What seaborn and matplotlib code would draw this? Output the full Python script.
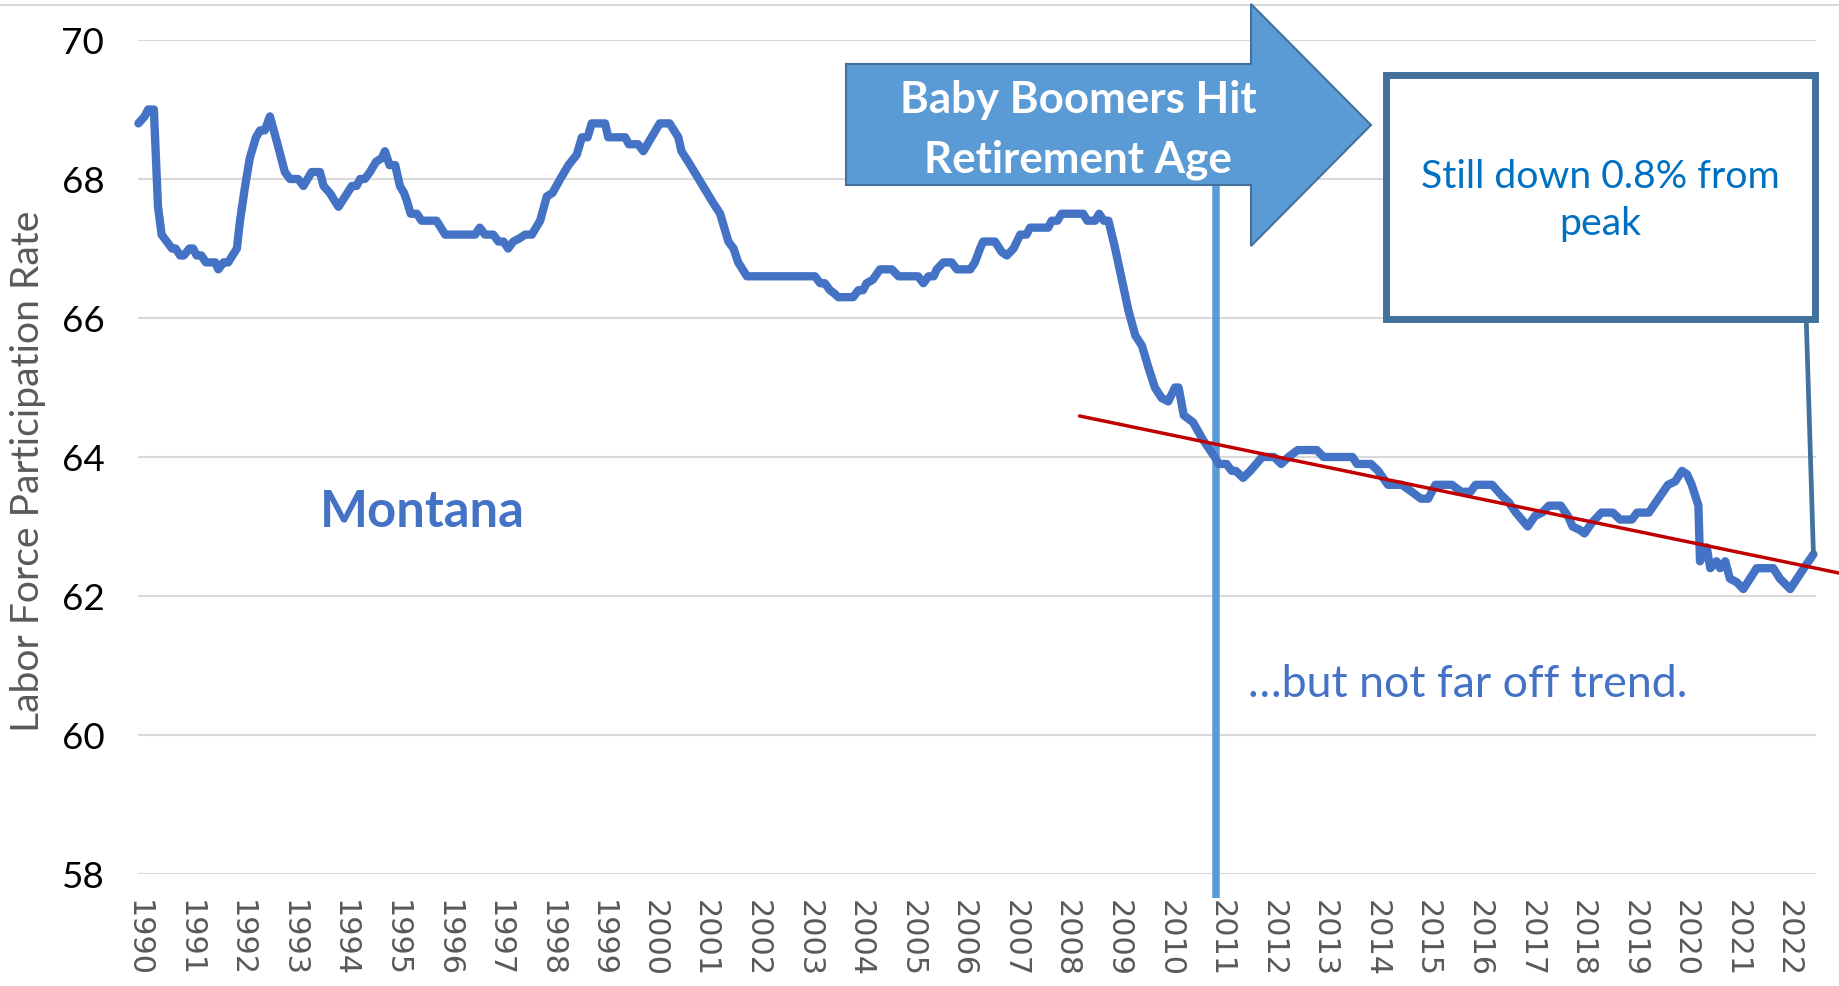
import matplotlib
matplotlib.use("Agg")
import matplotlib.pyplot as plt
import seaborn as sns
import pandas as pd
from matplotlib.patches import Polygon, Rectangle
from matplotlib.lines import Line2D
from matplotlib.textpath import TextPath
from matplotlib.font_manager import FontProperties

# ---------------- data ----------------
years = [
    1990.00, 1990.12, 1990.19, 1990.30, 1990.38, 1990.45, 1990.55, 1990.65, 1990.72, 1990.81,
    1990.88, 1990.99, 1991.06, 1991.13, 1991.22, 1991.31, 1991.49, 1991.55, 1991.65, 1991.74,
    1991.91, 1991.97, 1992.07, 1992.16, 1992.28, 1992.36, 1992.45, 1992.55, 1992.68, 1992.84,
    1992.94, 1993.10, 1993.20, 1993.36, 1993.52, 1993.59, 1993.71, 1993.88, 1994.01, 1994.14,
    1994.23, 1994.30, 1994.39, 1994.49, 1994.61, 1994.72, 1994.78, 1994.87, 1994.98, 1995.07,
    1995.15, 1995.20, 1995.28, 1995.40, 1995.49, 1995.78, 1995.95, 1996.53, 1996.62, 1996.72,
    1996.88, 1996.98, 1997.08, 1997.17, 1997.27, 1997.40, 1997.50, 1997.63, 1997.79, 1997.92,
    1998.03, 1998.18, 1998.34, 1998.50, 1998.60, 1998.71, 1998.79, 1999.05, 1999.11, 1999.44,
    1999.51, 1999.69, 1999.79, 2000.11, 2000.30, 2000.47, 2000.53, 2000.66, 2001.15, 2001.28,
    2001.44, 2001.54, 2001.63, 2001.80, 2003.12, 2003.22, 2003.31, 2003.41, 2003.50, 2003.57,
    2003.86, 2003.96, 2004.05, 2004.12, 2004.24, 2004.38, 2004.61, 2004.74, 2005.12, 2005.22,
    2005.32, 2005.42, 2005.48, 2005.61, 2005.77, 2005.87, 2006.13, 2006.22, 2006.32, 2006.38,
    2006.61, 2006.74, 2006.84, 2006.97, 2007.10, 2007.22, 2007.29, 2007.64, 2007.71, 2007.82,
    2007.90, 2008.32, 2008.40, 2008.55, 2008.63, 2008.72, 2008.81, 2008.94, 2009.07, 2009.20,
    2009.33, 2009.46, 2009.58, 2009.71, 2009.84, 2009.97, 2010.10, 2010.17, 2010.27, 2010.45,
    2010.64, 2010.87, 2010.95, 2011.10, 2011.20, 2011.28, 2011.42, 2011.56, 2011.79, 2012.02,
    2012.16, 2012.30, 2012.48, 2012.85, 2012.98, 2013.54, 2013.63, 2013.90, 2014.04, 2014.23,
    2014.50, 2014.69, 2014.87, 2015.01, 2015.15, 2015.47, 2015.65, 2015.83, 2015.93, 2016.25,
    2016.43, 2016.57, 2016.71, 2016.94, 2017.08, 2017.22, 2017.35, 2017.58, 2017.72, 2017.81,
    2017.95, 2018.04, 2018.18, 2018.37, 2018.59, 2018.73, 2018.96, 2019.06, 2019.29, 2019.38,
    2019.52, 2019.66, 2019.80, 2019.93, 2020.03, 2020.12, 2020.25, 2020.28, 2020.41, 2020.48,
    2020.60, 2020.67, 2020.77, 2020.86, 2020.99, 2021.12, 2021.38, 2021.70, 2021.83, 2022.03,
    2022.25, 2022.48,
]
rate = [
    68.8, 68.9, 69.0, 69.0, 67.6, 67.2, 67.1, 67.0, 67.0, 66.9,
    66.9, 67.0, 67.0, 66.9, 66.9, 66.8, 66.8, 66.7, 66.8, 66.8,
    67.0, 67.4, 67.9, 68.3, 68.6, 68.7, 68.7, 68.9, 68.55, 68.1,
    68.0, 68.0, 67.9, 68.1, 68.1, 67.9, 67.8, 67.6, 67.75, 67.9,
    67.9, 68.0, 68.0, 68.1, 68.25, 68.3, 68.4, 68.2, 68.2, 67.9,
    67.8, 67.7, 67.5, 67.5, 67.4, 67.4, 67.2, 67.2, 67.3, 67.2,
    67.2, 67.1, 67.1, 67.0, 67.1, 67.15, 67.2, 67.2, 67.4, 67.75,
    67.8, 68.0, 68.2, 68.35, 68.6, 68.6, 68.8, 68.8, 68.6, 68.6,
    68.5, 68.5, 68.4, 68.8, 68.8, 68.6, 68.4, 68.25, 67.65, 67.5,
    67.1, 67.0, 66.8, 66.6, 66.6, 66.5, 66.5, 66.4, 66.35, 66.3,
    66.3, 66.4, 66.4, 66.5, 66.55, 66.7, 66.7, 66.6, 66.6, 66.5,
    66.6, 66.6, 66.7, 66.8, 66.8, 66.7, 66.7, 66.8, 67.0, 67.1,
    67.1, 66.95, 66.9, 67.0, 67.2, 67.2, 67.3, 67.3, 67.4, 67.4,
    67.5, 67.5, 67.4, 67.4, 67.5, 67.4, 67.4, 67.0, 66.55, 66.1,
    65.75, 65.6, 65.3, 65.0, 64.85, 64.8, 65.0, 65.0, 64.6, 64.5,
    64.25, 64.0, 63.9, 63.9, 63.8, 63.8, 63.7, 63.8, 64.0, 64.0,
    63.9, 64.0, 64.1, 64.1, 64.0, 64.0, 63.9, 63.9, 63.8, 63.6,
    63.6, 63.5, 63.4, 63.4, 63.6, 63.6, 63.5, 63.5, 63.6, 63.6,
    63.45, 63.35, 63.2, 63.0, 63.15, 63.2, 63.3, 63.3, 63.15, 63.0,
    62.95, 62.9, 63.05, 63.2, 63.2, 63.1, 63.1, 63.2, 63.2, 63.3,
    63.45, 63.6, 63.65, 63.8, 63.75, 63.6, 63.3, 62.5, 62.7, 62.4,
    62.5, 62.4, 62.5, 62.25, 62.2, 62.1, 62.4, 62.4, 62.25, 62.1,
    62.35, 62.6,
]
trend_years = [2008.25, 2022.98]
trend_rate = [64.59, 62.33]
retire_year = 2010.9
tick_years = list(range(1990, 2023))
y_ticks = [58, 60, 62, 64, 66, 68, 70]

# ---------------- figure setup ----------------
W, H, DPI = 1839, 987, 100
sns.set_style("white")
plt.rcParams["font.family"] = ["Lato", "DejaVu Sans"]

fig = plt.figure(figsize=(W / DPI, H / DPI), dpi=DPI)
fig.patch.set_facecolor("white")

def fx(x):
    return x / W

def fy(y):
    return 1 - y / H

def fit(text, target_px, family, weight="normal"):
    tp = TextPath((0, 0), text, size=100, prop=FontProperties(family=family, weight=weight))
    w = tp.get_extents().width
    return target_px * 72.0 / w

ax_left, ax_right, ax_top, ax_bot = 138.4, 1815.5, 41, 875
ax = fig.add_axes([fx(ax_left), fy(ax_bot), (ax_right - ax_left) / W, (ax_bot - ax_top) / H])
ax.set_facecolor("white")

df = pd.DataFrame({"year": years, "rate": rate})
sns.lineplot(data=df, x="year", y="rate", sort=False, estimator=None, ax=ax,
             color="#4472C4", linewidth=6.0, zorder=4,
             solid_joinstyle="round", solid_capstyle="round")

# trend line
tdf = pd.DataFrame({"year": trend_years, "rate": trend_rate})
sns.lineplot(data=tdf, x="year", y="rate", sort=False, estimator=None, ax=ax,
             color="#C00000", linewidth=2.5, zorder=5)
for ln in ax.get_lines():
    ln.set_clip_on(False)

# vertical retirement line
ax.plot([retire_year, retire_year], [67.9, 57.65], color="#5B9BD5", lw=5.4,
        zorder=3, clip_on=False, solid_capstyle="butt")

ax.set_xlim(1990.0, 2022.52)
ax.set_ylim(58, 70)
ax.set_yticks(y_ticks)
ax.set_xticks(tick_years)
ax.set_xticklabels([str(t) for t in tick_years])
ax.grid(axis="y", color="#D9D9D9", lw=1.5)
ax.grid(axis="x", visible=False)
ax.set_axisbelow(True)
for s in ax.spines.values():
    s.set_visible(False)

xt_size = fit("1990", 72, "DejaVu Sans")
yt_size = fit("68", 39, "Lato")
ax.tick_params(axis="x", length=0, pad=18, labelsize=xt_size, labelcolor="#595959")
ax.tick_params(axis="y", length=0, pad=24.5, labelsize=yt_size, labelcolor="#000000")
for lab in ax.get_xticklabels():
    lab.set_rotation(-90)
    lab.set_family("DejaVu Sans")
for lab in ax.get_yticklabels():
    lab.set_family("Lato")
ax.set_xlabel("")
ax.set_ylabel("")

# y label
yl = "Labor Force Participation Rate"
fig.text(fx(28), fy(471), yl, rotation=90, ha="center", va="center",
         fontsize=fit(yl, 516, "Lato"), color="#595959", family="Lato")

# top border line
fig.add_artist(Line2D([0, 1], [fy(6), fy(6)], transform=fig.transFigure,
                      color="#D9D9D9", lw=1.5))

# arrow
arrow_px = [(846, 65), (1251, 65), (1251, 5), (1371, 126), (1251, 247),
            (1251, 186), (846, 186)]
fig.add_artist(Polygon([(fx(x), fy(y)) for x, y in arrow_px], closed=True,
                       transform=fig.transFigure, facecolor="#5B9BD5",
                       edgecolor="#41719C", lw=1.5, zorder=10))
l1, l2 = "Baby Boomers Hit", "Retirement Age"
asz = fit(l1, 353, "Lato", "bold")
fig.text(fx(1078), fy(113), l1, ha="center", va="baseline", fontsize=asz,
         color="white", weight="bold", family="Lato", zorder=11)
fig.text(fx(1078), fy(172), l2, ha="center", va="baseline", fontsize=asz,
         color="white", weight="bold", family="Lato", zorder=11)

# callout box
fig.add_artist(Rectangle((fx(1385.5), fy(319.5)), (1815 - 1385.5) / W, (319.5 - 76) / H,
                         transform=fig.transFigure, facecolor="white",
                         edgecolor="#41719C", lw=5.0, zorder=10))
b1, b2 = "Still down 0.8% from", "peak"
bsz = fit(b1, 356, "Lato")
fig.text(fx(1600), fy(188), b1, ha="center", va="baseline", fontsize=bsz,
         color="#0070C0", family="Lato", zorder=11)
fig.text(fx(1600), fy(235), b2, ha="center", va="baseline", fontsize=bsz,
         color="#0070C0", family="Lato", zorder=11)

# connector from box to last data point
ax.plot([2022.336, years[-1]], [66.09, rate[-1]], color="#41719C", lw=3.4,
        zorder=6, clip_on=False)

# labels
m = "Montana"
fig.text(fx(422), fy(527), m, ha="center", va="baseline",
         fontsize=fit(m, 198, "Lato", "bold"), color="#4472C4",
         weight="bold", family="Lato")
t = "\u2026but not far off trend."
fig.text(fx(1468), fy(697), t, ha="center", va="baseline",
         fontsize=fit(t, 434, ["Lato", "DejaVu Sans"]), color="#4472C4",
         family=["Lato", "DejaVu Sans"])

fig.savefig("out.png", dpi=DPI, facecolor="white")
